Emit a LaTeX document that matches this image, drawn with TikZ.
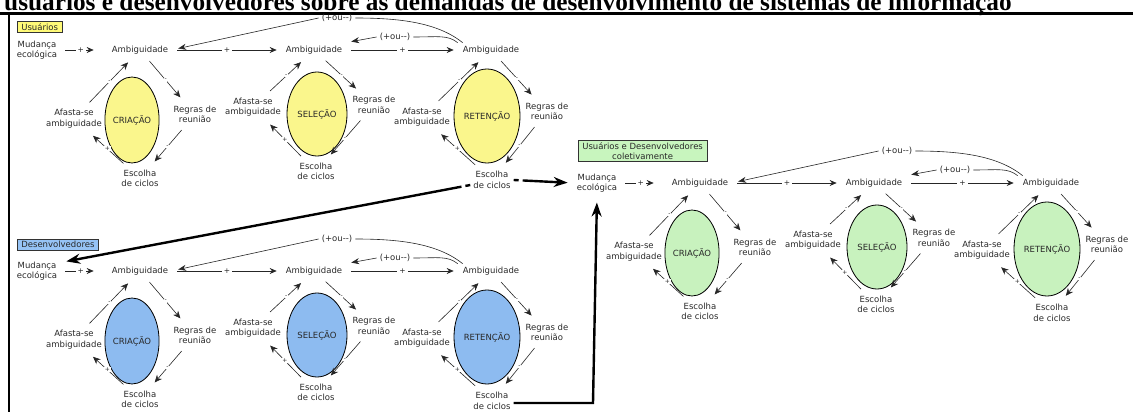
\documentclass[tikz,border=0pt]{standalone}
\usepackage{fontspec}
\usepackage{tikz}
\usetikzlibrary{arrows.meta,positioning,calc,shapes.geometric}
\newfontfamily\labelfont{DejaVu Sans}
\newfontfamily\titlefont{Liberation Serif}
\definecolor{yelfill}{RGB}{250,246,140}
\definecolor{bluefill}{RGB}{141,187,240}
\definecolor{grnfill}{RGB}{200,242,190}
\definecolor{yelbox}{RGB}{255,250,120}
\definecolor{bluebox}{RGB}{150,195,245}
\definecolor{grnbox}{RGB}{200,245,190}
\definecolor{txtgray}{RGB}{40,40,40}

\tikzset{
	lbl/.style={font=\labelfont\fontsize{8.5}{10.5}\selectfont, text=txtgray, align=center, inner sep=3pt},
	cyc/.style={ellipse, draw=black, line width=0.8pt, inner sep=0pt, font=\labelfont\fontsize{8.5}{10.5}\selectfont, text=txtgray},
	flow/.style={-{Stealth[length=7pt,width=6pt]}, line width=0.7pt, black!85},
	loopar/.style={-{Stealth[length=7.5pt,width=6.5pt]}, line width=0.6pt, black!85, shorten <=5pt, shorten >=7pt},
	sgn/.style={fill=white, inner sep=0.6pt, font=\labelfont\fontsize{6}{6}\selectfont, text=txtgray},
	gapsign/.style={fill=white, inner sep=2pt, font=\labelfont\fontsize{7.5}{7.5}\selectfont, text=txtgray},
	fbline/.style={line width=0.6pt, black!85},
	bigar/.style={line width=2.4pt, -{Stealth[length=14pt,width=10pt]}},
	headbox/.style={draw=black!80, line width=0.6pt, font=\labelfont\fontsize{8.5}{10}\selectfont, text=txtgray, inner xsep=4pt, inner ysep=2pt, anchor=north west, align=center},
	borderline/.style={line width=2.2pt},
}

\begin{document}
\begin{tikzpicture}[x=1pt, y=-1pt]
	\useasboundingbox (0,0) rectangle (1133,412);
	\clip (0,0) rectangle (1133,412);
	
	% title, cut at the top
	\node[anchor=base west, inner sep=0pt, font=\titlefont\bfseries\fontsize{25.3}{25.3}\selectfont] (title) at (4,11) {usuários e desenvolvedores sobre as demandas de desenvolvimento de sistemas de informação};
	
	% frame
	\draw[borderline] (0,13.5) -- (1133,13.5);
	\draw[borderline] (9,13.5) -- (9,412);
	
	% three panels
	\foreach \p/\dx/\dy/\col in {top/0/0/yelfill, bot/0/221/bluefill, grn/560/133/grnfill}{
		\begin{scope}[shift={(\dx,\dy)}, name prefix/.expanded=\p-]
			\node[lbl] (mud) at (37,50) {Mudança\\ecológica};
			
			% cycles
			\foreach \i/\ax/\ex/\ey/\rx/\ry/\afx/\afy/\rgx/\rgy/\esx/\esy/\stage in {
				1/140/132/120/26/43/74/118.5/195/114.5/140/178.5/CRIAÇÃO,
				2/314/317/114/30/42/253/107/374/105/316/171.5/SELEÇÃO,
				3/491/487/116/33/47/422/117/547/111.5/492/180/RETENÇÃO}{
				\node[lbl] (amb\i) at (\ax,50) {Ambiguidade};
				\node[cyc, fill=\col, minimum width={2*\rx pt}, minimum height={2*\ry pt}] (ell\i) at (\ex,\ey) {\stage};
				\node[lbl] (afasta\i) at (\afx,\afy) {Afasta-se\\ambiguidade};
				\node[lbl] (regras\i) at (\rgx,\rgy) {Regras de\\reunião};
				\node[lbl] (escolha\i) at (\esx,\esy) {Escolha\\de ciclos};
				\draw[loopar] (amb\i) -- node[sgn]{-} (regras\i);
				\draw[loopar] (regras\i) -- node[sgn]{-} (escolha\i);
				\draw[loopar] (escolha\i) -- node[sgn]{+} (afasta\i);
				\draw[loopar] (afasta\i) -- node[sgn]{-} (amb\i);
			}
			
			% main row
			\draw[flow, shorten <=5pt, shorten >=15pt] (mud) -- node[gapsign, pos=0.42]{+} (amb1);
			\draw[flow, shorten <=6pt, shorten >=6pt] (amb1) -- node[gapsign]{+} (amb2);
			\draw[flow, shorten <=6pt, shorten >=6pt] (amb2) -- node[gapsign]{+} (amb3);
			
			% feedback
			\node[lbl] (fbout) at (337,18) {(+ou--)};
			\node[lbl] (fbin) at (395,37) {(+ou--)};
			\draw[fbline] ([xshift=3pt]amb3.north west) .. controls +(-25,-20) and +(45,0) .. (fbout.east);
			\draw[fbline, -{Stealth[length=8pt,width=6pt]}, shorten >=7pt] (fbout.west) -- (amb1.east);
			\draw[fbline] ([xshift=-2pt]amb3.north west) .. controls +(-10,-8) and +(25,0) .. (fbin.east);
			\draw[fbline, -{Stealth[length=8pt,width=6pt]}, shorten >=6pt] (fbin.west) -- (amb2.north east);
		\end{scope}
	}
	
	% panel headings
	\node[headbox, fill=yelbox] (top-head) at (17,21) {Usuários};
	\node[headbox, fill=bluebox] (bot-head) at (17,239) {Desenvolvedores};
	\node[headbox, fill=grnbox] (grn-head) at (578,140) {Usuários e Desenvolvedores\\coletivamente};
	
	% links between panels
	\draw[bigar, dash pattern=on 5pt off 4pt on 500pt, shorten >=6pt] (top-escolha3.east) -- (grn-mud.west);
	\draw[bigar, dash pattern=on 5pt off 4pt on 600pt, shorten >=6pt] ([yshift=-5pt]top-escolha3.west) -- (bot-mud.20);
	\coordinate (bend) at (593,403);
	\draw[bigar, shorten >=7pt] (bot-escolha3.east |- bend) -- (bend) -- (grn-mud.south);
\end{tikzpicture}
\end{document}
